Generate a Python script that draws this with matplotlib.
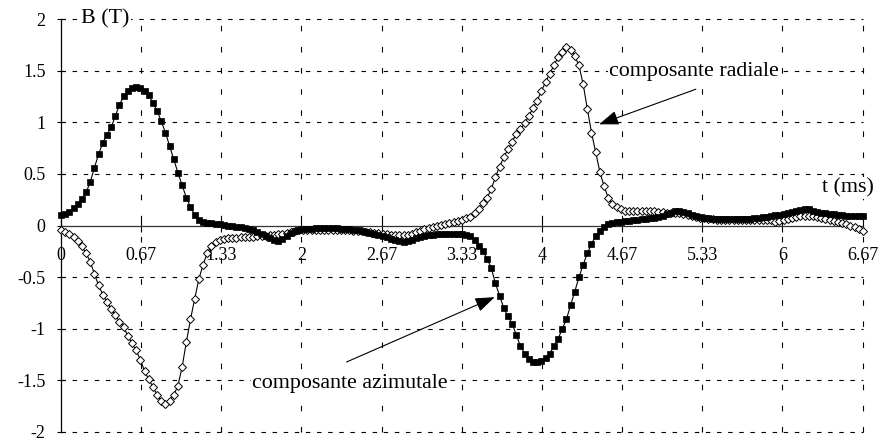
import numpy as np
import matplotlib
matplotlib.use("Agg")
import matplotlib.pyplot as plt

plt.rcParams['font.family'] = ['Liberation Serif', 'DejaVu Serif']

# ---- data (B in Tesla, sampled uniformly from t=0 to t=6.67 ms) ----
t_end = 6.67

azimutale = [
    0.10, 0.11, 0.135, 0.17, 0.21, 0.26, 0.32, 0.42, 0.56, 0.69,
    0.80, 0.88, 0.95, 1.06, 1.17, 1.25, 1.30, 1.33, 1.34, 1.33,
    1.30, 1.26, 1.19, 1.11, 1.01, 0.90, 0.77, 0.64, 0.51, 0.39,
    0.27, 0.18, 0.10, 0.05, 0.035, 0.025, 0.02, 0.015, 0.01, 0.005,
    0.0, -0.005, -0.01, -0.015, -0.025, -0.035, -0.045, -0.06, -0.08, -0.10,
    -0.12, -0.14, -0.15, -0.135, -0.10, -0.07, -0.05, -0.04, -0.035, -0.03,
    -0.03, -0.025, -0.025, -0.025, -0.025, -0.025, -0.025, -0.03, -0.03, -0.035,
    -0.04, -0.045, -0.05, -0.06, -0.07, -0.08, -0.09, -0.10, -0.115, -0.13,
    -0.14, -0.15, -0.155, -0.15, -0.14, -0.125, -0.11, -0.10, -0.095, -0.09,
    -0.085, -0.085, -0.085, -0.085, -0.085, -0.085, -0.085, -0.09, -0.10, -0.14,
    -0.20, -0.25, -0.32, -0.41, -0.56, -0.68, -0.80, -0.88, -0.95, -1.06,
    -1.17, -1.24, -1.29, -1.32, -1.32, -1.31, -1.28, -1.24, -1.17, -1.10,
    -1.00, -0.91, -0.77, -0.64, -0.50, -0.38, -0.27, -0.18, -0.10, -0.05,
    -0.01, 0.01, 0.02, 0.03, 0.035, 0.04, 0.045, 0.05, 0.055, 0.06,
    0.065, 0.07, 0.075, 0.085, 0.095, 0.11, 0.125, 0.14, 0.145, 0.135,
    0.12, 0.105, 0.09, 0.08, 0.075, 0.07, 0.065, 0.065, 0.06, 0.06,
    0.06, 0.06, 0.06, 0.06, 0.065, 0.065, 0.07, 0.075, 0.08, 0.085,
    0.09, 0.10, 0.105, 0.11, 0.12, 0.13, 0.14, 0.15, 0.155, 0.155,
    0.145, 0.135, 0.125, 0.12, 0.115, 0.11, 0.105, 0.10, 0.095, 0.09,
    0.09, 0.09, 0.09,
]

radiale = [
    -0.04, -0.06, -0.08, -0.11, -0.15, -0.20, -0.27, -0.35, -0.47, -0.58,
    -0.67, -0.74, -0.81, -0.87, -0.93, -0.98, -1.07, -1.14, -1.21, -1.30,
    -1.41, -1.49, -1.56, -1.64, -1.70, -1.73, -1.70, -1.64, -1.55, -1.37,
    -1.13, -0.91, -0.71, -0.52, -0.38, -0.27, -0.20, -0.16, -0.14, -0.13,
    -0.125, -0.12, -0.12, -0.115, -0.115, -0.11, -0.11, -0.105, -0.10, -0.10,
    -0.095, -0.09, -0.085, -0.08, -0.07, -0.06, -0.05, -0.045, -0.04, -0.04,
    -0.04, -0.04, -0.04, -0.04, -0.04, -0.04, -0.04, -0.04, -0.045, -0.045,
    -0.05, -0.05, -0.055, -0.06, -0.065, -0.07, -0.075, -0.08, -0.085, -0.09,
    -0.095, -0.095, -0.095, -0.09, -0.08, -0.065, -0.05, -0.035, -0.025, -0.015,
    -0.005, 0.005, 0.015, 0.025, 0.035, 0.045, 0.055, 0.07, 0.085, 0.12,
    0.16, 0.216, 0.27, 0.35, 0.47, 0.57, 0.66, 0.74, 0.81, 0.89,
    0.93, 0.99, 1.06, 1.14, 1.21, 1.30, 1.39, 1.47, 1.55, 1.63,
    1.68, 1.73, 1.70, 1.64, 1.55, 1.37, 1.13, 0.90, 0.71, 0.52,
    0.38, 0.27, 0.21, 0.175, 0.155, 0.145, 0.14, 0.14, 0.14, 0.14,
    0.14, 0.14, 0.14, 0.135, 0.13, 0.125, 0.12, 0.12, 0.12, 0.115,
    0.105, 0.095, 0.085, 0.075, 0.07, 0.065, 0.06, 0.055, 0.055, 0.05,
    0.05, 0.05, 0.05, 0.05, 0.05, 0.05, 0.05, 0.05, 0.05, 0.05,
    0.05, 0.035, 0.04, 0.05, 0.06, 0.07, 0.08, 0.09, 0.095, 0.095,
    0.09, 0.08, 0.07, 0.06, 0.05, 0.04, 0.03, 0.02, 0.01, 0.0,
    -0.015, -0.03, -0.05,
]

x_ticks = [0, 0.667, 1.333, 2, 2.667, 3.333, 4, 4.667, 5.333, 6, 6.667]
x_tick_labels = ["0", "0.67", "1.33", "2", "2.67", "3.33", "4", "4.67", "5.33", "6", "6.67"]
y_ticks = [2, 1.5, 1, 0.5, 0, -0.5, -1, -1.5, -2]
y_tick_labels = ["2", "1.5", "1", "0.5", "0", "-0.5", "-1", "-1.5", "-2"]

t_az = np.linspace(0, t_end, len(azimutale))
t_rad = np.linspace(0, t_end, len(radiale))

fig = plt.figure(figsize=(8.91, 4.41), dpi=100)
ax = fig.add_axes([61 / 891, 9 / 441, 802 / 891, 413 / 441])
ax.set_xlim(0, t_end)
ax.set_ylim(-2, 2)

# grid
for yv in y_ticks:
    if yv != 0:
        ax.axhline(yv, color='black', lw=0.8, linestyle=(0, (4, 6)), zorder=0.5, clip_on=False)
for xv in x_ticks[1:]:
    ax.axvline(xv, color='black', lw=0.8, linestyle=(0, (5, 14)), zorder=0.5, clip_on=False)

# spines
for s in ['top', 'right']:
    ax.spines[s].set_visible(False)
ax.spines['bottom'].set_position(('data', 0))
ax.spines['left'].set_position(('data', 0))
ax.spines['bottom'].set_linewidth(0.9)
ax.spines['left'].set_linewidth(0.9)
ax.spines['bottom'].set_color('#333333')

ax.set_xticks(x_ticks)
ax.set_xticklabels(x_tick_labels)
ax.set_yticks(y_ticks)
ax.set_yticklabels(y_tick_labels)
ax.tick_params(axis='x', direction='inout', length=8, width=0.8, pad=11.5, labelsize=13)
ax.tick_params(axis='y', direction='inout', length=6, width=0.8, pad=8, labelsize=13)

# series
ax.plot(t_rad, radiale, color='black', lw=0.8, marker='D', ms=3.6,
        markerfacecolor='white', markeredgecolor='black', markeredgewidth=0.7,
        clip_on=False, zorder=3)
ax.plot(t_az, azimutale, color='black', lw=0.8, marker='s', ms=4.8,
        markerfacecolor='black', markeredgecolor='black', markeredgewidth=0.5,
        clip_on=False, zorder=4)

# labels
box = dict(facecolor='white', edgecolor='none', pad=1.0)
ax.text(0.166, 2.0, "B (T)", fontsize=15.8, ha='left', va='center', bbox=box, zorder=6)
ax.text(6.33, 0.36, "t (ms)", fontsize=15.8, ha='left', va='center', bbox=box, zorder=6)
ax.text(4.56, 1.49, "composante radiale", fontsize=15.8, ha='left', va='center', bbox=box, zorder=6)
ax.text(1.588, -1.53, "composante azimutale", fontsize=15.8, ha='left', va='center', bbox=box, zorder=6)

arrow_style = '-|>,head_length=0.6,head_width=0.22'
ax.annotate('', xy=(4.475, 0.98), xytext=(5.28, 1.32),
            arrowprops=dict(arrowstyle=arrow_style, mutation_scale=20, color='black',
                            lw=0.8, shrinkA=0, shrinkB=0), zorder=5)
ax.annotate('', xy=(3.607, -0.694), xytext=(2.375, -1.322),
            arrowprops=dict(arrowstyle=arrow_style, mutation_scale=20, color='black',
                            lw=0.8, shrinkA=0, shrinkB=0), zorder=5)

fig.savefig("out.png", dpi=100)
